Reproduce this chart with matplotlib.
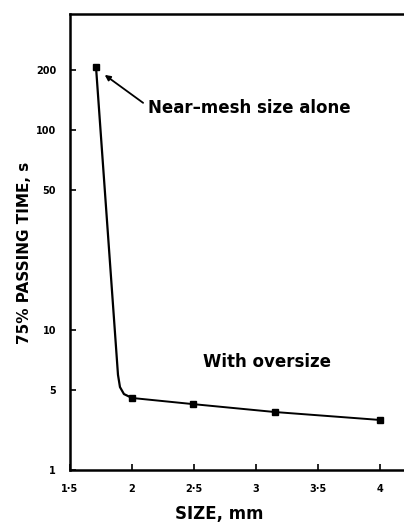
import matplotlib
matplotlib.use('Agg')
import matplotlib.pyplot as plt

# marker points
size_mm = [1.71, 2.0, 2.49, 3.15, 4.0]
pass_time = [205, 4.56, 4.25, 3.88, 3.54]

# hand drawn knee between the first two markers
curve_x = [1.71, 1.887, 1.903, 1.935, 2.0]
curve_y = [205, 5.95, 5.17, 4.77, 4.56]

y_ticks = [1.99, 5, 10, 50, 100, 200]
y_labels = ['1', '5', '10', '50', '100', '200']
x_ticks = [1.5, 2.0, 2.5, 3.0, 3.5, 4.0]
x_labels = ['1·5', '2', '2·5', '3', '3·5', '4']

fig = plt.figure(figsize=(4.04, 5.23), dpi=100)
ax = fig.add_axes([70 / 404, 53 / 523, 334 / 404, 456 / 523])

ax.plot(curve_x, curve_y, color='black', lw=1.6, solid_joinstyle='round')
ax.plot(size_mm[1:], pass_time[1:], color='black', lw=1.4)
ax.plot(size_mm, pass_time, 's', color='black', markersize=5)

ax.set_yscale('log')
ax.set_ylim(1.99, 379)
ax.set_xlim(1.5, 1.5 + 334 / 124)

ax.set_yticks(y_ticks)
ax.set_yticklabels(y_labels)
ax.minorticks_off()
ax.set_xticks(x_ticks)
ax.set_xticklabels(x_labels)
ax.tick_params(axis='both', direction='in', length=4, width=1.2, labelsize=7, pad=10)
ax.tick_params(axis='x', pad=10)
for lab in ax.get_xticklabels() + ax.get_yticklabels():
    lab.set_fontweight('bold')

ax.spines['right'].set_visible(False)
for s in ['left', 'top', 'bottom']:
    ax.spines[s].set_linewidth(1.8)

ax.annotate('Near\u2013mesh size alone', xy=(1.78, 188), xytext=(2.13, 128),
            fontsize=12, fontweight='bold', va='center', ha='left',
            arrowprops=dict(arrowstyle='-|>', color='black', lw=1.3,
                            mutation_scale=8, shrinkA=2, shrinkB=0,
                            relpos=(0, 0.6)))
ax.text(2.57, 6.9, 'With oversize', fontsize=12, fontweight='bold', va='center', ha='left')

fig.text(219 / 404, 1 - 514 / 523, 'SIZE, mm', fontsize=12, fontweight='bold',
         ha='center', va='center')
fig.text(25 / 404, 1 - 253 / 523, '75% PASSING TIME, s', fontsize=11, fontweight='bold',
         ha='center', va='center', rotation=90)

fig.savefig('out.png', dpi=100)
